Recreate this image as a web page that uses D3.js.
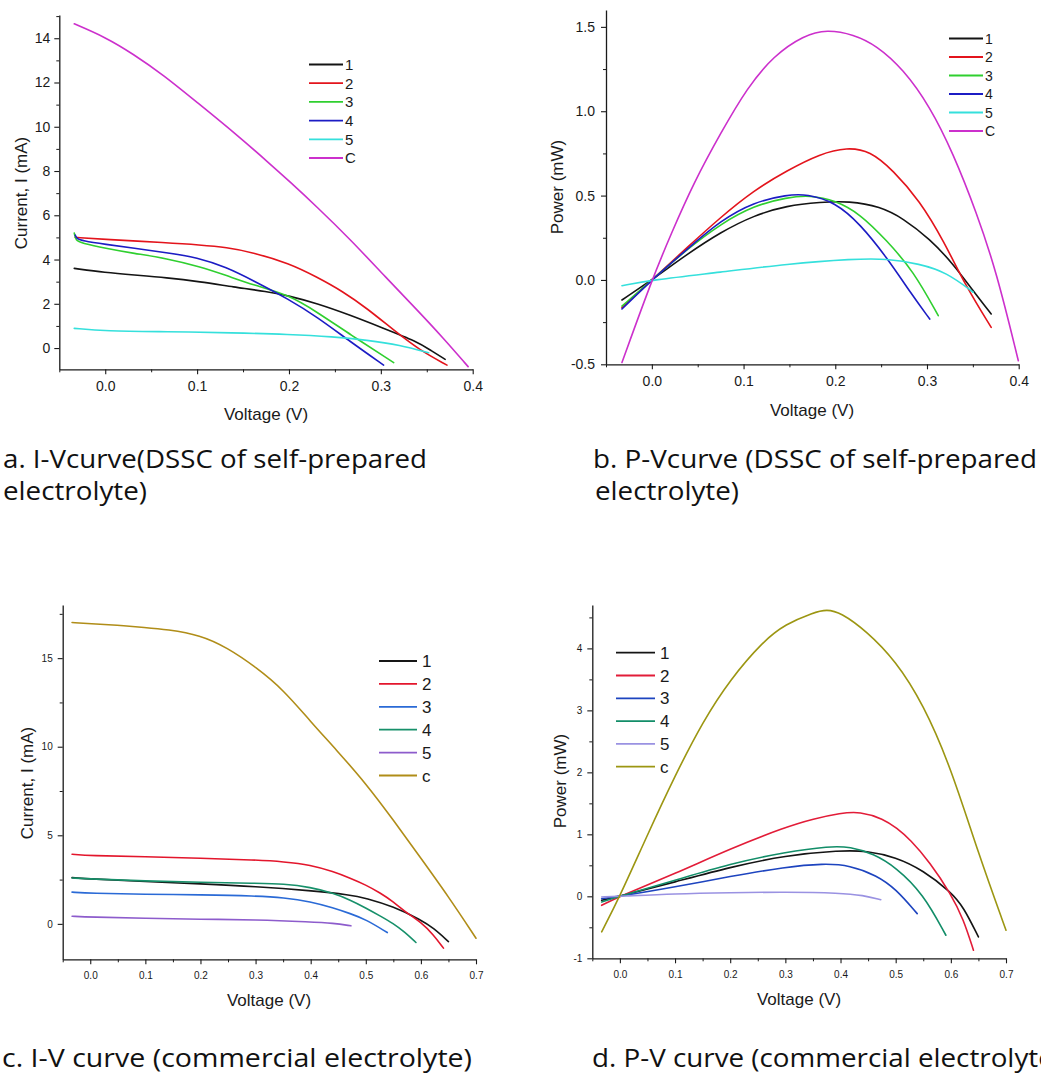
<!DOCTYPE html>
<html>
<head>
<meta charset="utf-8">
<script src="https://cdn.jsdelivr.net/npm/d3@7"></script>
<style>
  body { margin: 0; background: #fff; }
  svg { display: block; }
</style>
</head>
<body>
<svg id="fig" width="1041" height="1075"></svg>
<script>
// ---------- Panel a: I-V, self-prepared electrolyte (V, mA) ----------
const ivSelf1 = [[-0.0337,3.60],[0,3.41],[0.031,3.30],[0.0667,3.18],[0.103,3.00],[0.1397,2.76],[0.176,2.55],[0.2,2.36],[0.23,2.02],[0.2665,1.49],[0.303,0.89],[0.339,0.30],[0.355,-0.12],[0.370,-0.51]];
const ivSelf2 = [[-0.0326,5.00],[0,4.91],[0.067,4.76],[0.103,4.66],[0.132,4.55],[0.161,4.32],[0.2,3.83],[0.23,3.22],[0.259,2.55],[0.285,1.79],[0.314,0.81],[0.343,-0.12],[0.372,-0.77]];
const ivSelf3 = [[-0.0337,5.20],[-0.032,4.85],[-0.026,4.75],[0,4.51],[0.031,4.28],[0.0667,4.05],[0.103,3.68],[0.132,3.28],[0.161,2.85],[0.2,2.40],[0.23,1.64],[0.2665,0.62],[0.314,-0.66]];
const ivSelf4 = [[-0.0326,5.10],[-0.031,4.95],[-0.025,4.85],[0,4.69],[0.031,4.51],[0.0667,4.31],[0.1,4.10],[0.132,3.65],[0.161,3.05],[0.2,2.20],[0.23,1.42],[0.2665,0.30],[0.303,-0.77]];
const ivSelf5 = [[-0.0337,0.89],[0,0.77],[0.0667,0.74],[0.1395,0.69],[0.2,0.62],[0.248,0.51],[0.285,0.36],[0.321,0.14],[0.352,-0.21]];
const ivSelfC = [[-0.0337,14.65],[0,14.05],[0.03,13.30],[0.063,12.35],[0.1,11.10],[0.14,9.75],[0.18,8.30],[0.2,7.55],[0.23,6.40],[0.267,4.90],[0.303,3.30],[0.34,1.70],[0.368,0.45],[0.395,-0.84]];

// ---------- Panel b: P-V, self-prepared electrolyte (V, mW) ----------
const pvSelf1 = [[-0.0326,-0.119],[0,0],[0.0388,0.154],[0.075,0.283],[0.111,0.382],[0.1475,0.441],[0.1837,0.461],[0.215,0.468],[0.249,0.435],[0.274,0.365],[0.303,0.243],[0.3286,0.095],[0.350,-0.063],[0.370,-0.202]];
const pvSelf2 = [[-0.0326,-0.164],[0,0],[0.0388,0.194],[0.075,0.372],[0.111,0.53],[0.1475,0.649],[0.1837,0.748],[0.2127,0.786],[0.238,0.765],[0.263,0.65],[0.292,0.47],[0.318,0.234],[0.343,-0.044],[0.370,-0.281]];
const pvSelf3 = [[-0.0326,-0.155],[0,0],[0.0388,0.184],[0.075,0.332],[0.111,0.44],[0.1475,0.49],[0.173,0.502],[0.2,0.471],[0.227,0.392],[0.256,0.234],[0.285,0.055],[0.3123,-0.212]];
const pvSelf4 = [[-0.0326,-0.172],[0,0],[0.0388,0.184],[0.075,0.352],[0.111,0.461],[0.1475,0.505],[0.169,0.509],[0.2,0.461],[0.227,0.332],[0.256,0.135],[0.283,-0.083],[0.303,-0.232]];
const pvSelf5 = [[-0.0326,-0.034],[0,0],[0.075,0.046],[0.1475,0.095],[0.22,0.125],[0.256,0.127],[0.292,0.095],[0.321,0.046],[0.3504,-0.073]];
const pvSelfC = [[-0.0326,-0.489],[0,0],[0.0207,0.27],[0.046,0.58],[0.075,0.87],[0.104,1.14],[0.133,1.33],[0.1656,1.45],[0.191,1.485],[0.22,1.455],[0.245,1.39],[0.274,1.25],[0.303,1.03],[0.3286,0.75],[0.354,0.40],[0.3757,0.05],[0.3996,-0.479]];

// ---------- Panel c: I-V, commercial electrolyte (V, mA) ----------
const ivCom1 = [[-0.033,2.61],[0,2.54],[0.1,2.39],[0.2,2.26],[0.3,2.11],[0.4,1.88],[0.472,1.64],[0.5,1.45],[0.55,0.98],[0.6,0.23],[0.623,-0.24],[0.65,-1.00]];
const ivCom2 = [[-0.033,3.93],[0,3.85],[0.1,3.80],[0.2,3.70],[0.3,3.61],[0.351,3.51],[0.4,3.33],[0.441,2.95],[0.472,2.58],[0.5,2.20],[0.526,1.75],[0.55,1.25],[0.574,0.62],[0.6,0.10],[0.623,-0.62],[0.641,-1.37]];
const ivCom3 = [[-0.033,1.79],[0,1.73],[0.1,1.67],[0.2,1.64],[0.3,1.58],[0.351,1.48],[0.4,1.26],[0.441,0.90],[0.472,0.58],[0.5,0.25],[0.539,-0.49]];
const ivCom4 = [[-0.033,2.59],[0,2.54],[0.1,2.42],[0.2,2.35],[0.3,2.29],[0.351,2.26],[0.4,2.07],[0.441,1.73],[0.472,1.35],[0.5,0.90],[0.526,0.45],[0.55,0.02],[0.57,-0.45],[0.591,-1.05]];
const ivCom5 = [[-0.033,0.43],[0,0.38],[0.1,0.32],[0.2,0.26],[0.3,0.23],[0.4,0.11],[0.441,0.04],[0.473,-0.11]];
const ivComC = [[-0.033,17.01],[0,16.95],[0.048,16.86],[0.1,16.73],[0.139,16.62],[0.2,16.30],[0.248,15.60],[0.3,14.51],[0.351,13.20],[0.4,11.41],[0.447,9.81],[0.5,7.93],[0.55,5.86],[0.6,3.70],[0.65,1.54],[0.7,-0.81]];

// ---------- Panel d: P-V, commercial electrolyte (V, mW) ----------
const pvCom1 = [[-0.033,-0.064],[0,0],[0.1,0.231],[0.2,0.472],[0.3,0.66],[0.4,0.741],[0.447,0.735],[0.5,0.633],[0.55,0.419],[0.6,0.07],[0.623,-0.172],[0.65,-0.655]];
const pvCom2 = [[-0.033,-0.145],[0,0],[0.1,0.365],[0.2,0.768],[0.3,1.116],[0.351,1.25],[0.4,1.342],[0.435,1.37],[0.478,1.25],[0.502,1.10],[0.526,0.92],[0.562,0.55],[0.6,0.04],[0.623,-0.37],[0.641,-0.87]];
const pvCom3 = [[-0.033,-0.038],[0,0],[0.1,0.15],[0.2,0.322],[0.3,0.472],[0.369,0.53],[0.417,0.50],[0.4655,0.338],[0.5,0.123],[0.539,-0.279]];
const pvCom4 = [[-0.033,-0.091],[0,0],[0.1,0.258],[0.2,0.526],[0.3,0.714],[0.381,0.81],[0.417,0.80],[0.46,0.687],[0.5,0.472],[0.55,0.043],[0.591,-0.628]];
const pvCom5 = [[-0.033,-0.01],[0,0],[0.1,0.043],[0.2,0.059],[0.3,0.07],[0.4,0.054],[0.441,0.016],[0.473,-0.054]];
const pvComC = [[-0.033,-0.574],[0,0],[0.048,0.955],[0.1,1.95],[0.151,2.83],[0.2,3.50],[0.26,4.12],[0.3,4.39],[0.351,4.58],[0.375,4.63],[0.4,4.58],[0.447,4.28],[0.5,3.80],[0.55,3.10],[0.6,2.08],[0.65,0.687],[0.7,-0.547]];

// ---------- Series names and tick values ----------
const namesSelf = ["1", "2", "3", "4", "5", "C"];
const namesCom  = ["1", "2", "3", "4", "5", "c"];
const ticksVoltSelf = [0, 0.1, 0.2, 0.3, 0.4];
const ticksVoltCom  = [0, 0.1, 0.2, 0.3, 0.4, 0.5, 0.6, 0.7];
const ticksCurrentSelf = [0, 2, 4, 6, 8, 10, 12, 14];
const ticksPowerSelf   = [-0.5, 0, 0.5, 1.0, 1.5];
const ticksCurrentCom  = [0, 5, 10, 15];
const ticksPowerCom    = [-1, 0, 1, 2, 3, 4];

// ---------- Colours ----------
const coloursSelf = ["#141414", "#e3141c", "#2fcf2f", "#1c1cc4", "#35e0dc", "#cc30cc"];
const coloursComC = ["#161616", "#e3162c", "#2a6ad6", "#17906a", "#8d5ccc", "#b08d18"];
const coloursComD = ["#141414", "#e21c38", "#1d44bf", "#128d68", "#9a92e2", "#9c9612"];

const svg = d3.select("#fig");
const fmt1 = v => d3.format(".1f")(v).replace("\u2212", "-");
const fmt0 = v => d3.format("d")(v).replace("\u2212", "-");

function minorBetween(domain, step, majors) {
  const out = [];
  const start = Math.ceil(domain[0] / step - 1e-9);
  const end = Math.floor(domain[1] / step + 1e-9);
  for (let k = start; k <= end; k++) {
    const v = +(k * step).toFixed(6);
    if (!majors.some(m => Math.abs(m - v) < 1e-9)) out.push(v);
  }
  return out;
}

function drawPanel(p) {
  const g = svg.append("g");
  const x = d3.scaleLinear().domain(p.xDomain).range([p.left, p.right]);
  const y = d3.scaleLinear().domain(p.yDomain).range([p.bottom, p.top]);

  // minor ticks
  g.append("g").attr("transform", `translate(0,${p.bottom})`)
    .call(d3.axisBottom(x).tickValues(minorBetween(p.xDomain, p.xMinor, p.xTicks)).tickSize(3).tickSizeOuter(0).tickFormat(""))
    .call(s => s.select(".domain").remove());
  g.append("g").attr("transform", `translate(${p.left},0)`)
    .call(d3.axisLeft(y).tickValues(minorBetween(p.yDomain, p.yMinor, p.yTicks)).tickSize(3).tickSizeOuter(0).tickFormat(""))
    .call(s => s.select(".domain").remove());

  // major axes
  const xa = g.append("g").attr("transform", `translate(0,${p.bottom})`)
    .call(d3.axisBottom(x).tickValues(p.xTicks).tickSize(5).tickSizeOuter(0).tickPadding(p.xPad).tickFormat(fmt1));
  const ya = g.append("g").attr("transform", `translate(${p.left},0)`)
    .call(d3.axisLeft(y).tickValues(p.yTicks).tickSize(5).tickSizeOuter(0).tickPadding(p.yPad).tickFormat(p.yFmt));
  [xa, ya].forEach(a => {
    a.selectAll("text").attr("font-family", "'Liberation Sans', Arial, sans-serif")
      .attr("font-size", p.tickFont).attr("fill", "#1a1a1a");
    a.selectAll("line").attr("stroke", "#1a1a1a").attr("stroke-width", 1.1);
    a.select(".domain").attr("stroke", "#1a1a1a").attr("stroke-width", 1.3);
  });
  g.selectAll("g.tick line").attr("stroke", "#1a1a1a");

  // axis titles
  g.append("text").attr("x", p.xTitle[0]).attr("y", p.xTitle[1])
    .attr("text-anchor", "middle").attr("font-family", "'Liberation Sans', Arial, sans-serif")
    .attr("font-size", p.titleFont).attr("fill", "#1a1a1a").text("Voltage (V)");
  g.append("text").attr("transform", `translate(${p.yTitle[0]},${p.yTitle[1]}) rotate(-90)`)
    .attr("text-anchor", "middle").attr("font-family", "'Liberation Sans', Arial, sans-serif")
    .attr("font-size", p.titleFont).attr("fill", "#1a1a1a").text(p.yLabel);

  // curves
  const line = d3.line().x(d => x(d[0])).y(d => y(d[1])).curve(d3.curveBasis);
  p.series.forEach((s, i) => {
    g.append("path").datum(s).attr("d", line).attr("fill", "none")
      .attr("stroke", p.colours[i]).attr("stroke-width", 1.6)
      .attr("stroke-linejoin", "round").attr("stroke-linecap", "round");
  });

  // legend
  p.names.forEach((n, i) => {
    const ly = p.legend.y + i * p.legend.step;
    g.append("line").attr("x1", p.legend.x1).attr("x2", p.legend.x2)
      .attr("y1", ly).attr("y2", ly).attr("stroke", p.colours[i]).attr("stroke-width", 1.8);
    g.append("text").attr("x", p.legend.tx).attr("y", ly).attr("dy", "0.36em")
      .attr("font-family", "'Liberation Sans', Arial, sans-serif")
      .attr("font-size", p.legend.font).attr("fill", "#1a1a1a").text(n);
  });
}

drawPanel({
  left: 59.3, right: 472.7, top: 15, bottom: 369.3,
  xDomain: [-0.05, 0.4], yDomain: [-0.96, 15.05],
  xTicks: ticksVoltSelf, yTicks: ticksCurrentSelf, xMinor: 0.05, yMinor: 1,
  yFmt: fmt0, xPad: 7, yPad: 4, tickFont: 14, titleFont: 17,
  xTitle: [266, 420], yTitle: [27, 193], yLabel: "Current, I (mA)",
  series: [ivSelf1, ivSelf2, ivSelf3, ivSelf4, ivSelf5, ivSelfC],
  names: namesSelf, colours: coloursSelf,
  legend: { x1: 309, x2: 343, tx: 345, y: 64.5, step: 18.7, font: 15 }
});

drawPanel({
  left: 606, right: 1018.7, top: 10, bottom: 364.3,
  xDomain: [-0.05, 0.4], yDomain: [-0.5, 1.6],
  xTicks: ticksVoltSelf, yTicks: ticksPowerSelf, xMinor: 0.05, yMinor: 0.25,
  yFmt: fmt1, xPad: 7, yPad: 6, tickFont: 14, titleFont: 17,
  xTitle: [812, 416], yTitle: [563, 187], yLabel: "Power (mW)",
  series: [pvSelf1, pvSelf2, pvSelf3, pvSelf4, pvSelf5, pvSelfC],
  names: namesSelf, colours: coloursSelf,
  legend: { x1: 949, x2: 983, tx: 985, y: 38.5, step: 18.5, font: 14 }
});

drawPanel({
  left: 62.7, right: 476, top: 605, bottom: 959.3,
  xDomain: [-0.05, 0.7], yDomain: [-2, 18],
  xTicks: ticksVoltCom, yTicks: ticksCurrentCom, xMinor: 0.05, yMinor: 2.5,
  yFmt: fmt0, xPad: 8, yPad: 5, tickFont: 10, titleFont: 17,
  xTitle: [269, 1006], yTitle: [33, 783], yLabel: "Current, I (mA)",
  series: [ivCom1, ivCom2, ivCom3, ivCom4, ivCom5, ivComC],
  names: namesCom, colours: coloursComC,
  legend: { x1: 379, x2: 417, tx: 422, y: 661, step: 22.9, font: 17 }
});

drawPanel({
  left: 592.3, right: 1006, top: 605, bottom: 958.3,
  xDomain: [-0.05, 0.7], yDomain: [-1, 4.7],
  xTicks: ticksVoltCom, yTicks: ticksPowerCom, xMinor: 0.05, yMinor: 0.5,
  yFmt: fmt0, xPad: 8, yPad: 5, tickFont: 10, titleFont: 17,
  xTitle: [799, 1005], yTitle: [566, 781], yLabel: "Power (mW)",
  series: [pvCom1, pvCom2, pvCom3, pvCom4, pvCom5, pvComC],
  names: namesCom, colours: coloursComD,
  legend: { x1: 616, x2: 655, tx: 660, y: 652.7, step: 22.8, font: 17 }
});

// ---------- Panel captions ----------
const captions = [
  { x: 3,   y: 468,    w: 424, t: "a. I-Vcurve(DSSC of self-prepared" },
  { x: 3,   y: 500,    w: 144, t: "electrolyte)" },
  { x: 593, y: 468,    w: 444, t: "b. P-Vcurve (DSSC of self-prepared" },
  { x: 595, y: 500,    w: 144, t: "electrolyte)" },
  { x: 2,   y: 1066.5, w: 470, t: "c.  I-V curve (commercial electrolyte)" },
  { x: 592, y: 1066.5, w: 470, t: "d. P-V curve (commercial electrolyte)" }
];
svg.selectAll("text.caption").data(captions).join("text")
  .attr("class", "caption")
  .attr("x", d => d.x).attr("y", d => d.y)
  .attr("textLength", d => d.w).attr("lengthAdjust", "spacingAndGlyphs")
  .attr("font-family", "'Open Sans', 'Noto Sans', sans-serif")
  .attr("font-size", 25).attr("fill", "#111")
  .text(d => d.t);
</script>
</body>
</html>
